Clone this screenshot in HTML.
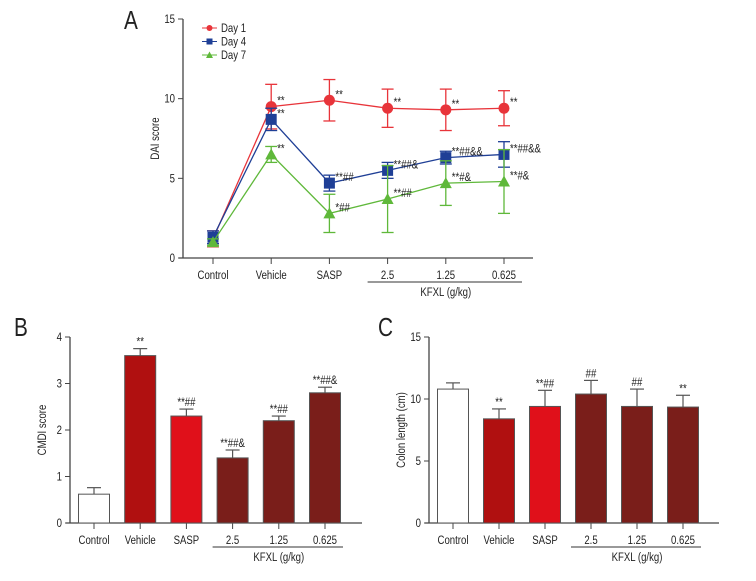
<!DOCTYPE html>
<html><head><meta charset="utf-8"><style>
body{margin:0;background:#fff}
svg{font-family:"Liberation Sans Narrow","Liberation Sans",sans-serif;fill:#222}
</style></head><body>
<svg id="s" width="756" height="576" viewBox="0 0 756 576" xmlns="http://www.w3.org/2000/svg"></svg>
<script>
const categories=["Control","Vehicle","SASP","2.5","1.25","0.625"];
const day1=[1.2,9.5,9.9,9.4,9.3,9.4];
const day1Err=[0.5,1.4,1.3,1.2,1.3,1.1];
const day1Sig=["","**","**","**","**","**"];
const day4=[1.3,8.7,4.7,5.5,6.3,6.5];
const day4Err=[0.4,0.7,0.5,0.5,0.4,0.8];
const day4Sig=["","**","**##","**##&","**##&&","**##&&"];
const day7=[1.0,6.5,2.8,3.7,4.7,4.8];
const day7Err=[0.2,0.5,1.2,2.1,1.4,2.0];
const day7Sig=["","**","*##","**##","**#&","**#&"];
const cmdi=[0.62,3.6,2.3,1.4,2.2,2.8];
const cmdiErr=[0.14,0.15,0.15,0.17,0.1,0.12];
const cmdiSig=["","**","**##","**##&","**##","**##&"];
const colon=[10.8,8.4,9.4,10.4,9.4,9.35];
const colonErr=[0.5,0.8,1.3,1.1,1.4,0.95];
const colonSig=["","**","**##","##","##","**"];
const ticksA=[0,5,10,15], ticksB=[0,1,2,3,4], ticksC=[0,5,10,15];
const barColors=["#fff","#b01010","#e0101a","#7a1e1a","#7a1e1a","#7a1e1a"];
const S=document.getElementById('s'),NS="http://www.w3.org/2000/svg";
function el(t,a,txt){const e=document.createElementNS(NS,t);
  if(t==='text'&&a.x!==undefined){a=Object.assign({},a);a.transform=`translate(${a.x},${a.y}) scale(0.8,1)`;delete a.x;delete a.y;}
  for(const k in a)e.setAttribute(k,a[k]);if(txt!==undefined)e.textContent=txt;S.appendChild(e);return e;}
function axes(x0,y0,x1,yTop,ticks,max,xs,ylab,letter,lx,ly,pfx){
  const y=v=>y0-(y0-yTop)*v/max;
  let e=el('line',{x1:x0,y1:yTop,x2:x0,y2:y0,stroke:'#444','stroke-width':1.3});
  
  e=el('line',{x1:x0-4,y1:y0,x2:x1,y2:y0,stroke:'#444','stroke-width':1.3});
  
  ticks.forEach(t=>{el('line',{x1:x0-5,x2:x0,y1:y(t),y2:y(t),stroke:'#444'});
    e=el('text',{x:x0-8,y:y(t)+4,'text-anchor':'end','font-size':12},t);
    });
  categories.forEach((c,i)=>{el('line',{x1:xs(i),x2:xs(i),y1:y0,y2:y0+6,stroke:'#444'});
    e=el('text',{x:xs(i),y:y0+21,'text-anchor':'middle','font-size':12},c);
    });
  el('line',{x1:xs(3)-20,x2:xs(5)+18,y1:y0+24,y2:y0+24,stroke:'#333'});
  e=el('text',{x:xs(4),y:y0+38,'text-anchor':'middle','font-size':12},'KFXL (g/kg)');
  
  e=document.createElementNS(NS,'text');
  e.setAttribute('transform',`translate(${x0-24},${(y0+yTop)/2}) rotate(-90) scale(0.8,1)`);
  e.setAttribute('text-anchor','middle');e.setAttribute('font-size',12);e.textContent=ylab;S.appendChild(e);
  
  e=el('text',{x:lx,y:ly,'font-size':26},letter);
  
  return y;
}
// Panel A
const xsA=i=>213+i*58.2;
const yA=axes(183,258,533,19,ticksA,15,xsA,'DAI score','A',124,29,'a');
function series(vals,err,sig,color,shape,name){
  let e=el('polyline',{points:vals.map((v,i)=>xsA(i)+','+yA(v)).join(' '),fill:'none',stroke:color,'stroke-width':1.3});
  
  vals.forEach((v,i)=>{const x=xsA(i);
    el('line',{x1:x,x2:x,y1:yA(v-err[i]),y2:yA(v+err[i]),stroke:color,'stroke-width':1.3});
    el('line',{x1:x-6,x2:x+6,y1:yA(v-err[i]),y2:yA(v-err[i]),stroke:color,'stroke-width':1.3});
    el('line',{x1:x-6,x2:x+6,y1:yA(v+err[i]),y2:yA(v+err[i]),stroke:color,'stroke-width':1.3});
    if(shape==='c')e=el('circle',{cx:x,cy:yA(v),r:5.5,fill:color});
    else if(shape==='s')e=el('rect',{x:x-5.5,y:yA(v)-5.5,width:11,height:11,fill:color});
    else e=el('polygon',{points:`${x},${yA(v)-6} ${x-6},${yA(v)+5} ${x+6},${yA(v)+5}`,fill:color});
    
    if(sig[i]){e=el('text',{x:x+6,y:yA(v)-2,'font-size':12},sig[i]);
      }
  });
}
series(day1,day1Err,day1Sig,'#e8343a','c','day1');
series(day4,day4Err,day4Sig,'#1f3f96','s','day4');
series(day7,day7Err,day7Sig,'#5fb83a','t','day7');
[['Day 1','#e8343a','c'],['Day 4','#1f3f96','s'],['Day 7','#5fb83a','t']].forEach((l,k)=>{
  const y=28+k*13.5;el('line',{x1:202,x2:217,y1:y,y2:y,stroke:l[1]});
  if(l[2]==='c')el('circle',{cx:209.5,cy:y,r:3,fill:l[1]});
  else if(l[2]==='s')el('rect',{x:206.5,y:y-3,width:6,height:6,fill:l[1]});
  else el('polygon',{points:`209.5,${y-3.5} 206,${y+3} 213,${y+3}`,fill:l[1]});
  const e=el('text',{x:221,y:y+4,'font-size':12},l[0]);
  
});
function bars(vals,err,sig,xs,y,y0,pfx){
  vals.forEach((v,i)=>{const x=xs(i);
    let e=el('rect',{x:x-15.5,y:y(v),width:31,height:y0-y(v),fill:barColors[i],stroke:'#555','stroke-width':1});
    
    el('line',{x1:x,x2:x,y1:y(v),y2:y(v+err[i]),stroke:'#555','stroke-width':1.2});
    el('line',{x1:x-7,x2:x+7,y1:y(v+err[i]),y2:y(v+err[i]),stroke:'#555','stroke-width':1.2});
    if(sig[i]){e=el('text',{x:x,y:y(v+err[i])-3,'text-anchor':'middle','font-size':12},sig[i]);
      }
  });
}
const xsB=i=>94+i*46.2;
const yB=axes(70,523,362,337,ticksB,4,xsB,'CMDI score','B',14,336,'b');
bars(cmdi,cmdiErr,cmdiSig,xsB,yB,523,'b');
const xsC=i=>453+i*46;
const yC=axes(429,523,719,337,ticksC,15,xsC,'Colon length (cm)','C',378,336,'c');
bars(colon,colonErr,colonSig,xsC,yC,523,'c');
</script>
</body></html>
